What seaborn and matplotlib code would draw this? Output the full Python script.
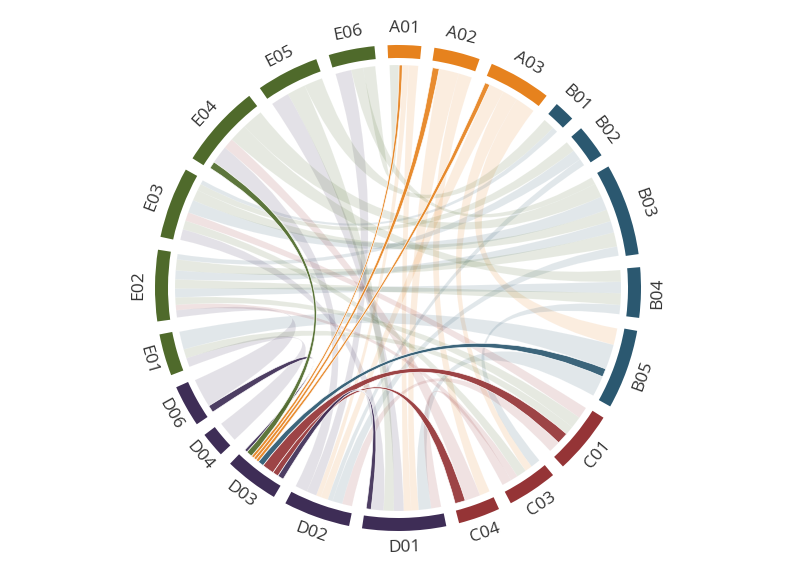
import numpy as np
import matplotlib
matplotlib.use("Agg")
import matplotlib.pyplot as plt
import seaborn as sns
from matplotlib.path import Path
from matplotlib.patches import PathPatch, Wedge

sns.set_theme(style="white")
plt.rcParams['font.family'] = ['Open Sans', 'DejaVu Sans']

nodes = ["A01","A02","A03","B01","B02","B03","B04","B05","C01","C03","C04",
         "D01","D02","D03","D04","D06","E01","E02","E03","E04","E05","E06"]
node_sizes = [8,11,15,5,8,22,12,19,15,12,10,20,16,13,6,10,10,17,17,20,15,11]
group_colors = {"A":"#e6821e","B":"#2b5870","C":"#953436","D":"#3e2d56","E":"#4f6a2b"}

links_src = ["D03","D03","D03","D03","D03","D03","D03","D03","D03",
             "A01","A01","A02","A02","A03","A03","A03",
             "B01","B02","B02","B03","B03","B03","B04","B04","B05","B05",
             "C01","C01","C03","C03","C04",
             "D01","D01","D02","D02","D04","D06",
             "E01","E02","E02","E02","E03","E03","E03","E04","E04","E05","E05","E06","E06"]
links_tgt = ["A01","A02","A03","B05","C01","C04","D01","D06","E04",
             "D01","D02","D01","C04","B05","D02","C03",
             "E03","E02","D02","E02","E03","D02","E02","C03","E01","D01",
             "E03","D02","E02","D01","E04",
             "E03","E05","E04","E06","E01","E02",
             "C01","B03","B04","C01","B03","B02","C03","B03","B04","B01","D01","B03","A01"]
links_val = [1,1,1,2,4,2,2,1,2,
             3,2,3,2,4,3,3,
             2,3,2,5,6,4,5,4,6,5,
             4,4,3,4,3,
             5,4,5,4,3,4,
             3,6,5,4,5,3,4,6,5,4,4,3,3]
highlight = "D03"

R_OUT, R_IN, R_CH, R_LAB = 243, 230, 223, 260
gap = (360 - sum(node_sizes)) / len(nodes)
start = {}
ang = -gap * 0.8
for n, s in zip(nodes, node_sizes):
    start[n] = (ang, ang + s)
    ang += s + gap

def color(n):
    return group_colors[n[0]]

ends = {n: [] for n in nodes}
for i, (s, t, v) in enumerate(zip(links_src, links_tgt, links_val)):
    ends[s].append((i, 0, v))
    ends[t].append((i, 1, v))
pos = {}
for n in nodes:
    a0, a1 = start[n]
    tot = sum(v for _, _, v in ends[n])
    def other(e):
        i, side, v = e
        o = links_tgt[i] if side == 0 else links_src[i]
        d = (np.mean(start[o]) - np.mean(start[n])) % 360
        return -d
    c = a0 + 0.3
    span = (a1 - a0 - 0.6)
    for e in sorted(ends[n], key=other):
        w = span * e[2] / tot
        pos[(e[0], e[1])] = (c, c + w)
        c += w

def xy(deg, r):
    t = np.deg2rad(deg)
    return r * np.sin(t), r * np.cos(t)

fig = plt.figure(figsize=(7.96, 5.75), dpi=100)
ax = fig.add_axes([0, 0, 1, 1])
ax.set_xlim(-398, 398)
ax.set_ylim(-287, 288)
ax.set_aspect("equal")
ax.axis("off")

def ribbon(a, b):
    verts, codes = [], []
    for k, d in enumerate(np.linspace(a[0], a[1], 20)):
        verts.append(xy(d, R_CH)); codes.append(Path.MOVETO if k == 0 else Path.LINETO)
    verts += [(0, 0), xy(b[0], R_CH)]; codes += [Path.CURVE3, Path.CURVE3]
    for d in np.linspace(b[0], b[1], 20)[1:]:
        verts.append(xy(d, R_CH)); codes.append(Path.LINETO)
    verts += [(0, 0), xy(a[0], R_CH)]; codes += [Path.CURVE3, Path.CURVE3]
    return Path(verts, codes)

order = sorted(range(len(links_val)), key=lambda i: highlight in (links_src[i], links_tgt[i]))
for i in order:
    s, t = links_src[i], links_tgt[i]
    p = ribbon(pos[(i, 0)], pos[(i, 1)])
    if highlight in (s, t):
        o = t if s == highlight else s
        ax.add_patch(PathPatch(p, fc=color(o), ec="white", lw=0.5, alpha=0.92, zorder=3))
    else:
        ax.add_patch(PathPatch(p, fc=color(s), ec="white", lw=0.6, alpha=0.14, zorder=1))

for n in nodes:
    a0, a1 = start[n]
    ax.add_patch(Wedge((0, 0), R_OUT, 90 - a1, 90 - a0, width=R_OUT - R_IN,
                       fc=color(n), ec="none", zorder=4))
    m = (a0 + a1) / 2
    x, y = xy(m, R_LAB)
    rot = -m
    if 90 < m % 360 < 270:
        rot += 180
    ax.text(x, y, n, rotation=rot, ha="center", va="center", fontsize=12.5,
            color="#333333", rotation_mode="anchor")

fig.savefig("out.png", dpi=100)
